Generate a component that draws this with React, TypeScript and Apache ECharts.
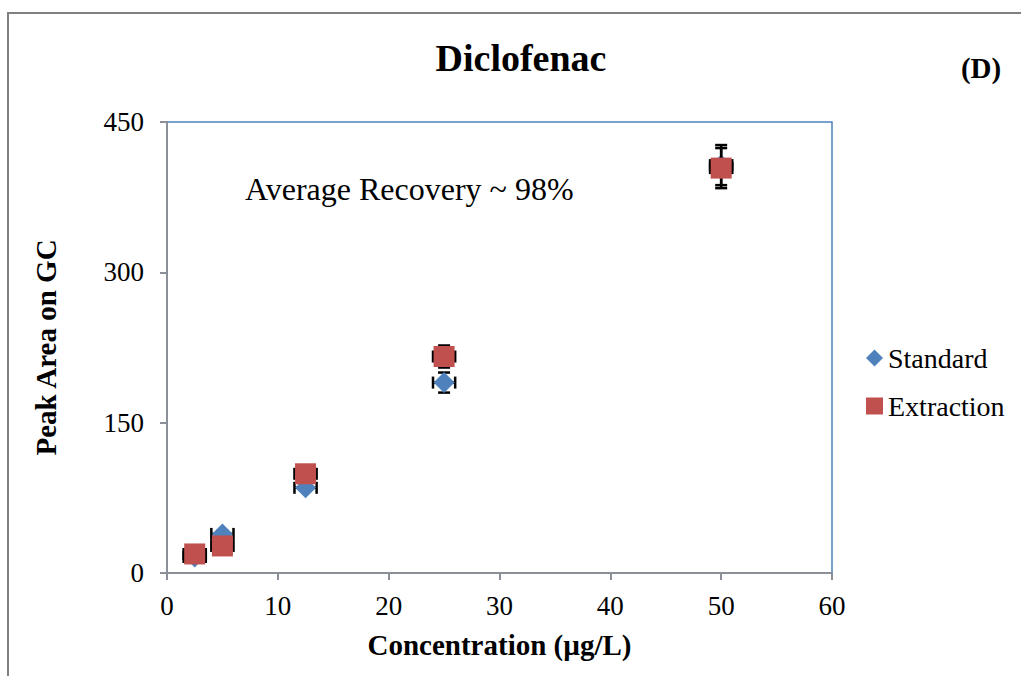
import React, { useEffect, useRef } from "react";
import * as echarts from "echarts";

const concentrations = [2.5, 5, 12.5, 25, 50];
const standardValues = [16, 39, 85, 190, 407];
const standardYErr = [2, 3, 3, 10, 20];
const extractionValues = [19, 27, 99, 216, 404];
const extractionYErr = [3, 3, 4, 11, 20];
const concentrationErr = [1, 1, 1, 1, 1];

const titleText = "Diclofenac";
const panelLabel = "(D)";
const annotationText = "Average Recovery ~ 98%";
const xAxisName = "Concentration (µg/L)";
const yAxisName = "Peak Area on GC";

const FONT = "'Liberation Serif', 'Times New Roman', Times, serif";
const BLUE = "#4F81BD";
const RED = "#C0504D";
const AXIS_GRAY = "#8A8F98";

function renderErrorBar(params: any, api: any) {
  const x = api.value(0);
  const y = api.value(1);
  const ex = api.value(2);
  const ey = api.value(3);
  const top = api.coord([x, y + ey]);
  const bot = api.coord([x, y - ey]);
  const left = api.coord([x - ex, y]);
  const right = api.coord([x + ex, y]);
  const c = 6;
  const style = { stroke: "#000", lineWidth: 2.5 };
  return {
    type: "group",
    children: [
      { type: "line", shape: { x1: top[0], y1: top[1], x2: bot[0], y2: bot[1] }, style },
      { type: "line", shape: { x1: top[0] - c, y1: top[1], x2: top[0] + c, y2: top[1] }, style },
      { type: "line", shape: { x1: bot[0] - c, y1: bot[1], x2: bot[0] + c, y2: bot[1] }, style },
      { type: "line", shape: { x1: left[0], y1: left[1], x2: right[0], y2: right[1] }, style },
      { type: "line", shape: { x1: left[0], y1: left[1] - c, x2: left[0], y2: left[1] + c }, style },
      { type: "line", shape: { x1: right[0], y1: right[1] - c, x2: right[0], y2: right[1] + c }, style },
    ],
  };
}

export default function App() {
  const ref = useRef<HTMLDivElement>(null);

  useEffect(() => {
    if (!ref.current) return;
    const chart = echarts.init(ref.current, undefined, { renderer: "svg" });

    const stdPoints = concentrations.map((x, i) => [x, standardValues[i]]);
    const extPoints = concentrations.map((x, i) => [x, extractionValues[i]]);
    const stdErr = concentrations.map((x, i) => [x, standardValues[i], concentrationErr[i], standardYErr[i]]);
    const extErr = concentrations.map((x, i) => [x, extractionValues[i], concentrationErr[i], extractionYErr[i]]);

    chart.setOption({
      animation: false,
      backgroundColor: "#fff",
      textStyle: { fontFamily: FONT },
      grid: {
        left: 167,
        top: 122,
        right: 189,
        bottom: 103,
        show: true,
        borderColor: BLUE,
        borderWidth: 1.5,
        backgroundColor: "transparent",
      },
      legend: {
        data: ["Standard", "Extraction"],
        orient: "vertical",
        left: 861,
        top: 339,
        itemWidth: 17,
        itemHeight: 17,
        itemGap: 20,
        textStyle: { fontFamily: FONT, fontSize: 28, color: "#000" },
      },
      xAxis: {
        type: "value",
        min: 0,
        max: 60,
        interval: 10,
        name: xAxisName,
        nameLocation: "middle",
        nameGap: 57,
        nameTextStyle: { fontFamily: FONT, fontSize: 29, fontWeight: "bold", color: "#000" },
        axisLine: { show: true, onZero: false, lineStyle: { color: AXIS_GRAY, width: 2 } },
        axisTick: { show: true, inside: false, length: 7, lineStyle: { color: AXIS_GRAY, width: 2 } },
        axisLabel: { fontFamily: FONT, fontSize: 27, color: "#000", margin: 19 },
        splitLine: { show: false },
      },
      yAxis: {
        type: "value",
        min: 0,
        max: 450,
        interval: 150,
        name: yAxisName,
        nameLocation: "middle",
        nameRotate: 90,
        nameGap: 107,
        nameTextStyle: { fontFamily: FONT, fontSize: 29, fontWeight: "bold", color: "#000" },
        axisLine: { show: true, onZero: false, lineStyle: { color: AXIS_GRAY, width: 2 } },
        axisTick: { show: true, inside: false, length: 7, lineStyle: { color: AXIS_GRAY, width: 2 } },
        axisLabel: { fontFamily: FONT, fontSize: 27, color: "#000", margin: 23 },
        splitLine: { show: false },
      },
      series: [
        {
          name: "Standard error",
          type: "custom",
          renderItem: renderErrorBar,
          encode: { x: 0, y: 1 },
          data: stdErr,
          z: 1,
        },
        {
          name: "Standard",
          type: "scatter",
          symbol: "diamond",
          symbolSize: 21,
          itemStyle: { color: BLUE, opacity: 1 },
          data: stdPoints,
          z: 2,
        },
        {
          name: "Extraction error",
          type: "custom",
          renderItem: renderErrorBar,
          encode: { x: 0, y: 1 },
          data: extErr,
          z: 3,
        },
        {
          name: "Extraction",
          type: "scatter",
          symbol: "rect",
          symbolSize: 21,
          itemStyle: { color: RED, opacity: 1 },
          data: extPoints,
          z: 4,
        },
      ],
      graphic: [
        {
          type: "rect",
          silent: true,
          shape: { x: 8, y: 13, width: 1100, height: 800 },
          style: { fill: "none", stroke: "#808080", lineWidth: 2 },
          z: 100,
        },
        {
          type: "text",
          x: 521,
          y: 58,
          style: {
            text: titleText,
            fontFamily: FONT,
            fontSize: 38,
            fontWeight: "bold",
            fill: "#000",
            textAlign: "center",
            textVerticalAlign: "middle",
          },
        },
        {
          type: "text",
          x: 981,
          y: 68,
          style: {
            text: panelLabel,
            fontFamily: FONT,
            fontSize: 29,
            fontWeight: "bold",
            fill: "#000",
            textAlign: "center",
            textVerticalAlign: "middle",
          },
        },
        {
          type: "text",
          x: 245,
          y: 189,
          style: {
            text: annotationText,
            fontFamily: FONT,
            fontSize: 32,
            fill: "#000",
            textAlign: "left",
            textVerticalAlign: "middle",
          },
        },
      ],
    });

    return () => chart.dispose();
  }, []);

  return (
    <div
      ref={ref}
      style={{ position: "fixed", left: 0, top: 0, width: 1021, height: 676, background: "#fff" }}
    />
  );
}
